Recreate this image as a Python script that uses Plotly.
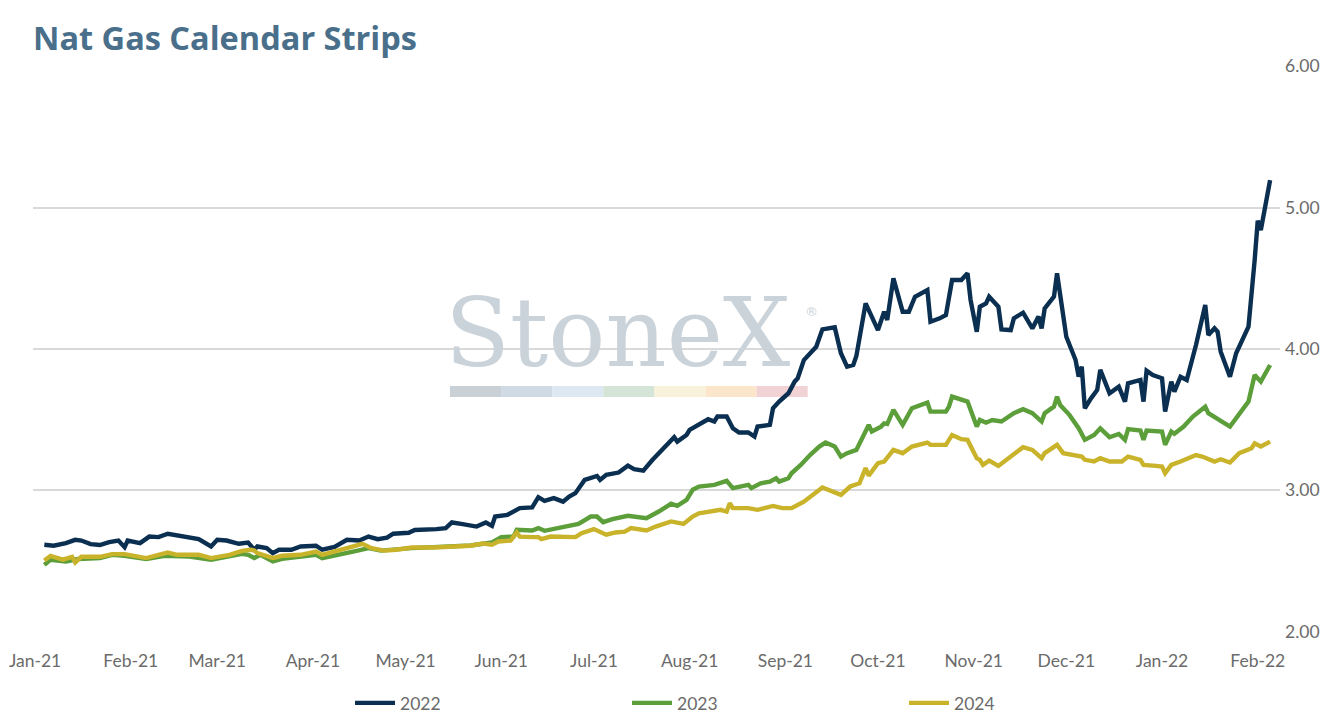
import plotly.graph_objects as go

# ---------------- data ----------------
dates_2022 = [
    "2021-01-04","2021-01-07","2021-01-11","2021-01-14","2021-01-16","2021-01-19","2021-01-22","2021-01-25","2021-01-28","2021-01-30","2021-01-31",
    "2021-02-04","2021-02-07","2021-02-10","2021-02-13","2021-02-16","2021-02-19","2021-02-23","2021-02-27",
    "2021-03-01","2021-03-04","2021-03-08","2021-03-11","2021-03-13","2021-03-14","2021-03-17","2021-03-19","2021-03-21","2021-03-25","2021-03-28",
    "2021-04-02","2021-04-04","2021-04-08","2021-04-12","2021-04-16","2021-04-19","2021-04-22","2021-04-25","2021-04-27",
    "2021-05-02","2021-05-04","2021-05-08","2021-05-11","2021-05-14","2021-05-16","2021-05-19","2021-05-24","2021-05-27","2021-05-29","2021-05-30",
    "2021-06-03","2021-06-07","2021-06-11","2021-06-13","2021-06-15","2021-06-18","2021-06-21","2021-06-23","2021-06-25","2021-06-28",
    "2021-07-02","2021-07-03","2021-07-05","2021-07-09","2021-07-12","2021-07-14","2021-07-17","2021-07-20","2021-07-22","2021-07-25","2021-07-27","2021-07-28","2021-07-31",
    "2021-08-01","2021-08-04","2021-08-07","2021-08-09","2021-08-10","2021-08-13","2021-08-15","2021-08-17","2021-08-20","2021-08-22","2021-08-23","2021-08-27","2021-08-28","2021-08-30",
    "2021-09-02","2021-09-04","2021-09-05","2021-09-07","2021-09-11","2021-09-13","2021-09-17","2021-09-19","2021-09-21","2021-09-23","2021-09-24","2021-09-27",
    "2021-10-01","2021-10-03","2021-10-04","2021-10-06","2021-10-09","2021-10-11","2021-10-13","2021-10-17","2021-10-18","2021-10-21","2021-10-23","2021-10-25","2021-10-28","2021-10-30","2021-10-31",
    "2021-11-02","2021-11-03","2021-11-05","2021-11-06","2021-11-09","2021-11-10","2021-11-13","2021-11-14","2021-11-17","2021-11-20","2021-11-22","2021-11-23","2021-11-24","2021-11-27","2021-11-28","2021-11-29","2021-11-30",
    "2021-12-01","2021-12-04","2021-12-05","2021-12-06","2021-12-07","2021-12-09","2021-12-11","2021-12-12","2021-12-15","2021-12-18","2021-12-20","2021-12-21","2021-12-25","2021-12-26","2021-12-27","2021-12-29",
    "2022-01-01","2022-01-02","2022-01-04","2022-01-05","2022-01-07","2022-01-09","2022-01-12","2022-01-15","2022-01-16","2022-01-18","2022-01-19","2022-01-20","2022-01-23","2022-01-25","2022-01-29","2022-01-31",
    "2022-02-01","2022-02-02","2022-02-05",
]
values_2022 = [
    2.615, 2.608, 2.627, 2.650, 2.645, 2.620, 2.613, 2.634, 2.645, 2.598, 2.645,
    2.627, 2.673, 2.669, 2.693, 2.683, 2.669, 2.655, 2.603,
    2.650, 2.645, 2.622, 2.630, 2.580, 2.603, 2.592, 2.556, 2.580, 2.580, 2.603,
    2.608, 2.580, 2.600, 2.650, 2.645, 2.673, 2.655, 2.665, 2.693,
    2.700, 2.720, 2.720, 2.726, 2.733, 2.773, 2.763, 2.744, 2.773, 2.749, 2.815,
    2.827, 2.874, 2.880, 2.952, 2.926, 2.945, 2.920, 2.956, 2.980, 3.074,
    3.102, 3.074, 3.110, 3.126, 3.175, 3.150, 3.140, 3.216, 3.263, 3.333, 3.376, 3.345, 3.392,
    3.428, 3.463, 3.503, 3.487, 3.522, 3.522, 3.439, 3.409, 3.409, 3.380, 3.451, 3.463, 3.581, 3.628,
    3.687, 3.769, 3.793, 3.922, 4.016, 4.139, 4.153, 3.970, 3.875, 3.887, 3.950, 4.323,
    4.134, 4.264, 4.205, 4.500, 4.264, 4.264, 4.370, 4.417, 4.193, 4.217, 4.240, 4.488, 4.488, 4.535, 4.346,
    4.122, 4.299, 4.323, 4.370, 4.299, 4.139, 4.134, 4.217, 4.257, 4.146, 4.229, 4.146, 4.287, 4.370, 4.535, 4.400, 4.252,
    4.087, 3.922, 3.804, 3.875, 3.581, 3.651, 3.710, 3.852, 3.687, 3.734, 3.628, 3.757, 3.781, 3.628, 3.847, 3.816,
    3.793, 3.557, 3.769, 3.698, 3.804, 3.781, 4.028, 4.311, 4.099, 4.146, 4.122, 3.981, 3.804, 3.970, 4.158, 4.629,
    4.907, 4.841, 5.194,
]

dates_2023 = [
    "2021-01-04","2021-01-06","2021-01-11","2021-01-15","2021-01-22","2021-01-26","2021-01-30",
    "2021-02-06","2021-02-12","2021-02-20","2021-02-27",
    "2021-03-05","2021-03-09","2021-03-11","2021-03-13","2021-03-15","2021-03-19","2021-03-22","2021-03-28",
    "2021-04-02","2021-04-04","2021-04-10","2021-04-14","2021-04-19","2021-04-23",
    "2021-05-03","2021-05-10","2021-05-16","2021-05-22","2021-05-29",
    "2021-06-01","2021-06-05","2021-06-06","2021-06-11","2021-06-13","2021-06-15","2021-06-19","2021-06-24","2021-06-26","2021-06-30",
    "2021-07-02","2021-07-04","2021-07-07","2021-07-12","2021-07-18","2021-07-22","2021-07-26","2021-07-28","2021-07-31",
    "2021-08-02","2021-08-04","2021-08-09","2021-08-13","2021-08-15","2021-08-20","2021-08-21","2021-08-24","2021-08-27","2021-08-29","2021-08-30",
    "2021-09-02","2021-09-03","2021-09-06","2021-09-09","2021-09-12","2021-09-14","2021-09-17","2021-09-19","2021-09-21","2021-09-24","2021-09-28","2021-09-29",
    "2021-10-02","2021-10-03","2021-10-04","2021-10-06","2021-10-09","2021-10-12","2021-10-17","2021-10-18","2021-10-23","2021-10-24","2021-10-25","2021-10-30",
    "2021-11-02","2021-11-03","2021-11-05","2021-11-07","2021-11-10","2021-11-14","2021-11-17","2021-11-20","2021-11-23","2021-11-24","2021-11-27","2021-11-28","2021-11-29",
    "2021-12-02","2021-12-04","2021-12-05","2021-12-07","2021-12-10","2021-12-12","2021-12-15","2021-12-18","2021-12-20","2021-12-21","2021-12-25","2021-12-26","2021-12-27",
    "2022-01-01","2022-01-02","2022-01-04","2022-01-05","2022-01-08","2022-01-11","2022-01-15","2022-01-16","2022-01-23","2022-01-26","2022-01-29","2022-01-31",
    "2022-02-02","2022-02-05",
]
values_2023 = [
    2.473, 2.509, 2.497, 2.514, 2.521, 2.544, 2.537,
    2.514, 2.537, 2.532, 2.509,
    2.532, 2.551, 2.544, 2.521, 2.544, 2.497, 2.516, 2.528,
    2.544, 2.521, 2.544, 2.567, 2.591, 2.574,
    2.591, 2.600, 2.608, 2.610, 2.631,
    2.669, 2.674, 2.721, 2.716, 2.733, 2.714, 2.733, 2.749, 2.763, 2.815,
    2.815, 2.775, 2.796, 2.820, 2.803, 2.850, 2.905, 2.890, 2.933,
    3.004, 3.027, 3.039, 3.067, 3.016, 3.039, 3.016, 3.050, 3.062, 3.086, 3.062,
    3.086, 3.121, 3.180, 3.250, 3.310, 3.338, 3.310, 3.239, 3.263, 3.286, 3.463, 3.416,
    3.451, 3.474, 3.469, 3.569, 3.463, 3.581, 3.621, 3.557, 3.557, 3.592, 3.663, 3.628,
    3.451, 3.498, 3.479, 3.498, 3.487, 3.546, 3.574, 3.546, 3.487, 3.546, 3.592, 3.663, 3.604,
    3.534, 3.474, 3.440, 3.357, 3.392, 3.439, 3.376, 3.399, 3.357, 3.433, 3.423, 3.357, 3.423,
    3.416, 3.322, 3.416, 3.400, 3.451, 3.522, 3.592, 3.546, 3.451, 3.546, 3.628, 3.816,
    3.769, 3.887,
]

dates_2024 = [
    "2021-01-04","2021-01-06","2021-01-10","2021-01-13","2021-01-14","2021-01-16","2021-01-22","2021-01-26","2021-01-30",
    "2021-02-06","2021-02-10","2021-02-13","2021-02-16","2021-02-23","2021-02-27",
    "2021-03-05","2021-03-09","2021-03-12","2021-03-13","2021-03-14","2021-03-19","2021-03-22","2021-03-28",
    "2021-04-02","2021-04-04","2021-04-09","2021-04-14","2021-04-17","2021-04-20","2021-04-24","2021-04-28",
    "2021-05-03","2021-05-10","2021-05-16","2021-05-22","2021-05-26","2021-05-29","2021-05-31",
    "2021-06-04","2021-06-06","2021-06-07","2021-06-11","2021-06-13","2021-06-14","2021-06-17","2021-06-25","2021-06-27",
    "2021-07-01","2021-07-05","2021-07-08","2021-07-11","2021-07-13","2021-07-18","2021-07-21","2021-07-26","2021-07-30",
    "2021-08-02","2021-08-04","2021-08-11","2021-08-13","2021-08-14","2021-08-15","2021-08-20","2021-08-23","2021-08-28","2021-08-31",
    "2021-09-03","2021-09-07","2021-09-10","2021-09-13","2021-09-19","2021-09-22","2021-09-25","2021-09-27","2021-09-28",
    "2021-10-01","2021-10-03","2021-10-06","2021-10-09","2021-10-12","2021-10-17","2021-10-18","2021-10-23","2021-10-25","2021-10-28","2021-10-30",
    "2021-11-02","2021-11-03","2021-11-04","2021-11-06","2021-11-09","2021-11-13","2021-11-17","2021-11-20","2021-11-23","2021-11-24","2021-11-28","2021-11-30",
    "2021-12-03","2021-12-06","2021-12-07","2021-12-10","2021-12-12","2021-12-15","2021-12-19","2021-12-21","2021-12-25","2021-12-26","2021-12-30",
    "2022-01-01","2022-01-02","2022-01-04","2022-01-07","2022-01-12","2022-01-14","2022-01-18","2022-01-20","2022-01-23","2022-01-26","2022-01-30","2022-01-31",
    "2022-02-02","2022-02-05",
]
values_2024 = [
    2.504, 2.537, 2.510, 2.530, 2.490, 2.530, 2.530, 2.549, 2.549,
    2.521, 2.544, 2.560, 2.544, 2.544, 2.521,
    2.544, 2.572, 2.580, 2.574, 2.556, 2.521, 2.537, 2.544,
    2.567, 2.544, 2.574, 2.603, 2.622, 2.591, 2.574, 2.580,
    2.596, 2.596, 2.603, 2.608, 2.624, 2.615, 2.638,
    2.645, 2.702, 2.673, 2.669, 2.669, 2.655, 2.673, 2.669, 2.697,
    2.726, 2.686, 2.702, 2.708, 2.733, 2.716, 2.744, 2.780, 2.763,
    2.815, 2.838, 2.862, 2.850, 2.909, 2.874, 2.874, 2.862, 2.890, 2.874,
    2.874, 2.920, 2.968, 3.020, 2.968, 3.027, 3.050, 3.157, 3.104,
    3.192, 3.204, 3.286, 3.263, 3.310, 3.338, 3.322, 3.322, 3.392, 3.362, 3.357,
    3.228, 3.216, 3.180, 3.210, 3.173, 3.235, 3.305, 3.286, 3.228, 3.263, 3.322, 3.263,
    3.250, 3.239, 3.216, 3.204, 3.228, 3.204, 3.204, 3.239, 3.216, 3.180, 3.173,
    3.168, 3.121, 3.180, 3.204, 3.250, 3.239, 3.204, 3.220, 3.197, 3.263, 3.298, 3.333,
    3.310, 3.345,
]

series_names = ["2022", "2023", "2024"]
series_colors = ["#0B2F50", "#5B9E3A", "#C9B32B"]
y_ticks = [2, 3, 4, 5, 6]
watermark_colors = ["#C9D0D6", "#D0DAE4", "#DDE8F2", "#D4E4D6", "#F8F2DA", "#FBE6CC", "#F2D3D5"]

# ---------------- figure ----------------
W, H = 1344, 724
OFF = 8                      # page (body) offset of the plot div
PL, PR, PT, PB = 33, 1280, 66, 632   # wanted plot-area edges on screen
plot_w = PR - PL
plot_h = PB - PT


def px_x(x):
    return (x - PL) / plot_w


def px_y(y):
    return (PB - y) / plot_h


fig = go.Figure()
for name, color, xs, ys in zip(series_names, series_colors,
                               [dates_2022, dates_2023, dates_2024],
                               [values_2022, values_2023, values_2024]):
    fig.add_trace(go.Scatter(x=xs, y=ys, name=name, mode="lines",
                             line=dict(color=color, width=4.4)))

# watermark colour bar (decoration)
bar_left, seg_w = 450, 51.1
for i, c in enumerate(watermark_colors):
    fig.add_shape(type="rect", xref="paper", yref="paper",
                  x0=px_x(bar_left + i * seg_w), x1=px_x(bar_left + (i + 1) * seg_w),
                  y0=px_y(397), y1=px_y(386),
                  fillcolor=c, line_width=0, layer="below")

fig.add_annotation(text="StoneX", xref="paper", yref="paper",
                   x=px_x(618), y=px_y(333),
                   xanchor="center", yanchor="middle", showarrow=False,
                   font=dict(family="DejaVu Serif", size=95, color="#CBD3DA"))
fig.add_annotation(text="®", xref="paper", yref="paper",
                   x=px_x(812), y=px_y(311),
                   xanchor="center", yanchor="middle", showarrow=False,
                   font=dict(family="DejaVu Sans", size=13, color="#CBD3DA"))

# title
fig.add_annotation(text="<b>Nat Gas Calendar Strips</b>", xref="paper", yref="paper",
                   x=px_x(31), y=px_y(37), xanchor="left", yanchor="middle", showarrow=False,
                   font=dict(family="Open Sans", size=32.5, color="#4A6F8B"))

tick_font = dict(family="Lato", size=17.5, color="#6B6B6B")

fig.update_layout(
    width=W, height=H,
    margin=dict(l=PL - OFF, r=W - (PR - OFF), t=PT - OFF, b=H - (PB - OFF), autoexpand=False),
    paper_bgcolor="white", plot_bgcolor="white",
    xaxis=dict(type="date", range=["2020-12-31 08:00", "2022-02-08 05:00"],
               tickformat="%b-%y", dtick="M1", tick0="2021-01-01",
               showgrid=False, zeroline=False, showline=False, ticks="",
               ticklabelstandoff=16, ticklabeloverflow="allow", tickfont=tick_font),
    yaxis=dict(side="right", range=[1.998, 6.002], tickvals=y_ticks, tickformat=".2f",
               showgrid=True, gridcolor="#D9D9D9", gridwidth=1.5, zeroline=False,
               showline=False, ticks="", ticklabelstandoff=4, ticklabeloverflow="allow",
               tickfont=tick_font),
    legend=dict(orientation="h", x=px_x(350), xanchor="left",
                y=px_y(703), yanchor="middle",
                entrywidth=222, entrywidthmode="pixels", itemwidth=40,
                font=tick_font, bgcolor="rgba(0,0,0,0)"),
    showlegend=True,
)

fig.write_html("out.html")
